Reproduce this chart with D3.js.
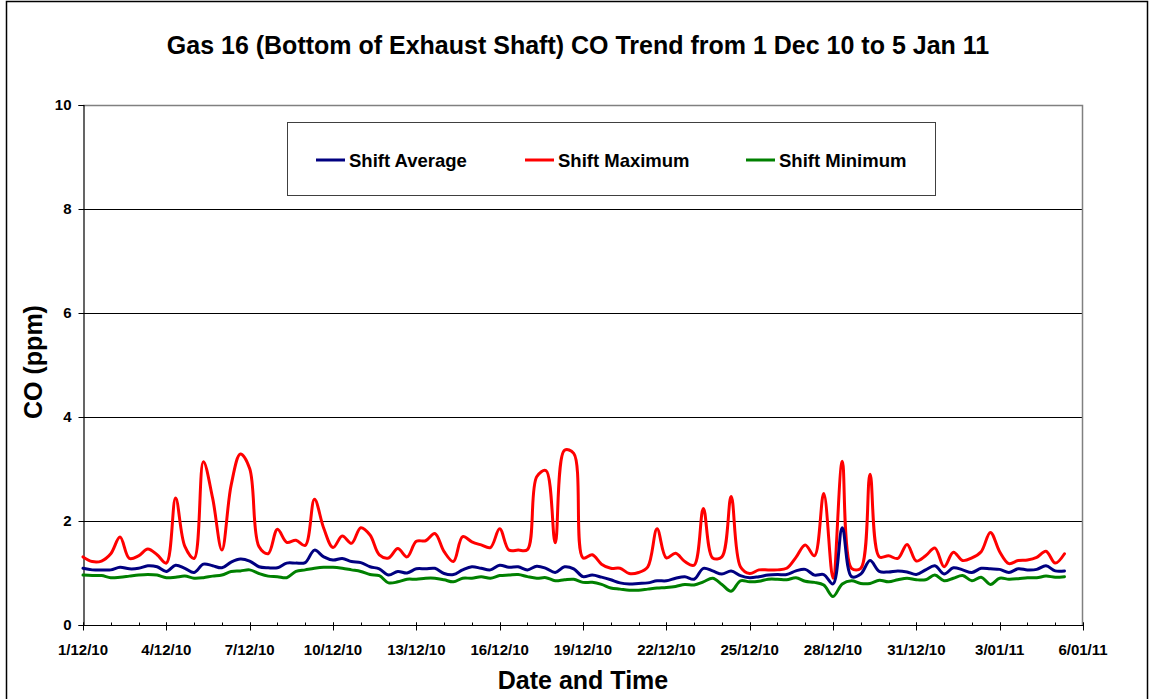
<!DOCTYPE html>
<html>
<head>
<meta charset="utf-8">
<script src="https://cdn.jsdelivr.net/npm/d3@7"></script>
<style>
  html, body { margin: 0; padding: 0; background: #fff; }
  svg { display: block; font-family: "Liberation Sans", Arial, Helvetica, sans-serif; }
</style>
</head>
<body>
<svg id="chart" width="1151" height="699"></svg>
<script>
// ---------------- DATA ----------------
const titleText = "Gas 16 (Bottom of Exhaust Shaft) CO Trend from 1 Dec 10 to 5 Jan 11";
const xTitle = "Date and Time";
const yTitle = "CO (ppm)";
const seriesNames = ["Shift Average", "Shift Maximum", "Shift Minimum"];
const seriesColors = ["#000080", "#FF0000", "#008000"];

// one value per 8-hour shift starting 1 Dec 2010 00:00
const shiftHours = 8;
const startDate = Date.UTC(2010, 11, 1);
const endDate = Date.UTC(2011, 0, 6);

const shiftMaximum = [
  1.31,1.22,1.23,1.37,1.69,1.28,1.33,1.46,1.35,1.19,
  2.44,1.51,1.28,3.14,2.44,1.44,2.69,3.29,3.01,1.51,
  1.37,1.84,1.59,1.63,1.53,2.42,1.86,1.49,1.71,1.57,
  1.87,1.73,1.35,1.29,1.47,1.31,1.61,1.62,1.76,1.41,
  1.22,1.70,1.60,1.54,1.49,1.85,1.44,1.44,1.45,2.85,
  2.97,1.58,3.36,3.30,1.29,1.35,1.17,1.09,1.09,0.99,
  1.01,1.12,1.85,1.29,1.38,1.22,1.15,2.24,1.29,1.31,
  2.47,1.12,0.99,1.06,1.06,1.06,1.09,1.30,1.54,1.33,
  2.53,0.90,3.15,1.09,1.09,2.90,1.31,1.33,1.28,1.55,
  1.23,1.33,1.48,1.12,1.40,1.24,1.29,1.41,1.78,1.41,
  1.18,1.24,1.25,1.30,1.42,1.19,1.37
];
const shiftAverage = [
  1.09,1.06,1.06,1.06,1.11,1.08,1.09,1.14,1.12,1.03,
  1.15,1.09,1.01,1.17,1.14,1.10,1.21,1.27,1.23,1.12,
  1.10,1.10,1.19,1.19,1.20,1.44,1.31,1.25,1.28,1.22,
  1.20,1.12,1.08,0.96,1.03,1.00,1.08,1.08,1.09,0.99,
  0.97,1.06,1.12,1.09,1.06,1.15,1.11,1.12,1.06,1.13,
  1.09,1.01,1.12,1.08,0.93,0.96,0.92,0.87,0.81,0.79,
  0.80,0.81,0.85,0.85,0.90,0.93,0.88,1.09,1.04,0.98,
  1.04,0.95,0.91,0.93,0.96,0.97,0.97,1.04,1.07,0.96,
  0.97,0.79,1.87,0.93,0.98,1.24,1.03,1.02,1.04,1.02,
  0.97,1.06,1.14,0.98,1.10,1.06,1.01,1.09,1.08,1.07,
  1.01,1.08,1.06,1.07,1.14,1.04,1.04
];
const shiftMinimum = [
  0.96,0.95,0.95,0.91,0.92,0.94,0.96,0.97,0.96,0.91,
  0.92,0.94,0.90,0.91,0.94,0.96,1.03,1.04,1.06,0.99,
  0.94,0.93,0.91,1.03,1.06,1.09,1.11,1.11,1.09,1.06,
  1.03,0.97,0.95,0.81,0.83,0.88,0.88,0.90,0.90,0.87,
  0.83,0.90,0.90,0.93,0.90,0.95,0.96,0.97,0.93,0.90,
  0.91,0.85,0.87,0.88,0.82,0.82,0.78,0.71,0.69,0.67,
  0.67,0.69,0.71,0.72,0.74,0.78,0.77,0.83,0.90,0.78,
  0.65,0.85,0.83,0.84,0.88,0.88,0.87,0.91,0.84,0.82,
  0.77,0.55,0.79,0.85,0.80,0.80,0.86,0.83,0.87,0.90,
  0.87,0.87,0.96,0.85,0.90,0.95,0.85,0.92,0.78,0.90,
  0.88,0.89,0.91,0.91,0.94,0.92,0.93
];
const yTicks = [0, 2, 4, 6, 8, 10];
const xTickLabels = ["1/12/10","4/12/10","7/12/10","10/12/10","13/12/10","16/12/10","19/12/10",
                     "22/12/10","25/12/10","28/12/10","31/12/10","3/01/11","6/01/11"];
const majorTickDays = 3;

// ---------------- LAYOUT ----------------
const svg = d3.select("#chart");
const plot = { left: 83, right: 1083, top: 105, bottom: 625 };
const DAY = 86400000;

const x = d3.scaleUtc().domain([new Date(startDate), new Date(endDate)]).range([plot.left, plot.right]);
const y = d3.scaleLinear().domain([0, 10]).range([plot.bottom, plot.top]);

// outer border
svg.append("rect").attr("x", 6.5).attr("y", 1.5).attr("width", 1141).attr("height", 730)
  .attr("fill", "#fff").attr("stroke", "#000").attr("stroke-width", 1.5);

// title
svg.append("text").attr("x", 578).attr("y", 54).attr("text-anchor", "middle")
  .attr("font-size", 25).attr("font-weight", "bold").text(titleText);

// gridlines
svg.append("g").selectAll("line").data(yTicks.filter(d => d > 0 && d < 10)).join("line")
  .attr("x1", plot.left).attr("x2", plot.right)
  .attr("y1", d => Math.round(y(d)) + 0.5).attr("y2", d => Math.round(y(d)) + 0.5)
  .attr("stroke", "#000").attr("stroke-width", 1);

// plot frame top/right (grey)
svg.append("path")
  .attr("d", `M${plot.left},${plot.top + 0.5}H${plot.right - 0.5}V${plot.bottom}`)
  .attr("fill", "none").attr("stroke", "#808080").attr("stroke-width", 1.5);

// y axis
const yAxis = d3.axisLeft(y).tickValues(yTicks).tickSize(5).tickPadding(7).tickFormat(d3.format("d"));
const gy = svg.append("g").attr("transform", `translate(${plot.left + 0.5},0)`).call(yAxis);
gy.select(".domain").attr("stroke", "#000").attr("stroke-width", 1.2);
gy.selectAll(".tick line").attr("stroke", "#000");
gy.selectAll(".tick text").attr("font-size", 15).attr("font-weight", "bold")
  .attr("font-family", "Liberation Sans, Arial, sans-serif").attr("fill", "#000");

// x axis: minor daily ticks (inside), major every 3 days (cross)
const nDays = Math.round((endDate - startDate) / DAY);
const dayDates = d3.range(0, nDays + 1).map(d => new Date(startDate + d * DAY));
const majorDates = dayDates.filter((d, i) => i % majorTickDays === 0);
const gx = svg.append("g").attr("transform", `translate(0,${plot.bottom + 0.5})`);
gx.append("line").attr("x1", plot.left).attr("x2", plot.right).attr("stroke", "#000").attr("stroke-width", 1.2);
gx.selectAll("line.minor").data(dayDates).join("line").attr("class", "minor")
  .attr("x1", d => Math.round(x(d)) + 0.5).attr("x2", d => Math.round(x(d)) + 0.5)
  .attr("y1", -3).attr("y2", 0).attr("stroke", "#000");
gx.selectAll("line.major").data(majorDates).join("line").attr("class", "major")
  .attr("x1", d => Math.round(x(d)) + 0.5).attr("x2", d => Math.round(x(d)) + 0.5)
  .attr("y1", -3).attr("y2", 5).attr("stroke", "#000");
gx.selectAll("text").data(majorDates).join("text")
  .attr("x", d => x(d)).attr("y", 29).attr("text-anchor", "middle")
  .attr("font-size", 15).attr("font-weight", "bold")
  .text((d, i) => xTickLabels[i]);

// axis titles
svg.append("text").attr("x", 583).attr("y", 689).attr("text-anchor", "middle")
  .attr("font-size", 25).attr("font-weight", "bold").text(xTitle);
svg.append("text").attr("transform", "translate(42,362) rotate(-90)").attr("text-anchor", "middle")
  .attr("font-size", 25).attr("font-weight", "bold").text(yTitle);

// series
const series = [shiftAverage, shiftMaximum, shiftMinimum];
const line = d3.line()
  .x((d, i) => x(new Date(startDate + i * shiftHours * 3600000)))
  .y(d => y(d))
  .curve(d3.curveCatmullRom.alpha(0.5));
const drawOrder = [1, 0, 2];
drawOrder.forEach(k => {
  svg.append("path").datum(series[k]).attr("d", line)
    .attr("fill", "none").attr("stroke", seriesColors[k]).attr("stroke-width", 3)
    .attr("stroke-linejoin", "round").attr("stroke-linecap", "round");
});

// legend
const lg = svg.append("g");
lg.append("rect").attr("x", 287.5).attr("y", 122.5).attr("width", 648).attr("height", 73)
  .attr("fill", "#fff").attr("stroke", "#404040").attr("stroke-width", 1);
const legendX = [316, 525, 746];
seriesNames.forEach((name, k) => {
  lg.append("line").attr("x1", legendX[k]).attr("x2", legendX[k] + 29)
    .attr("y1", 160).attr("y2", 160).attr("stroke", seriesColors[k]).attr("stroke-width", 3);
  lg.append("text").attr("x", legendX[k] + 33).attr("y", 166.5)
    .attr("font-size", 18.5).attr("font-weight", "bold").text(name);
});
</script>
</body>
</html>
